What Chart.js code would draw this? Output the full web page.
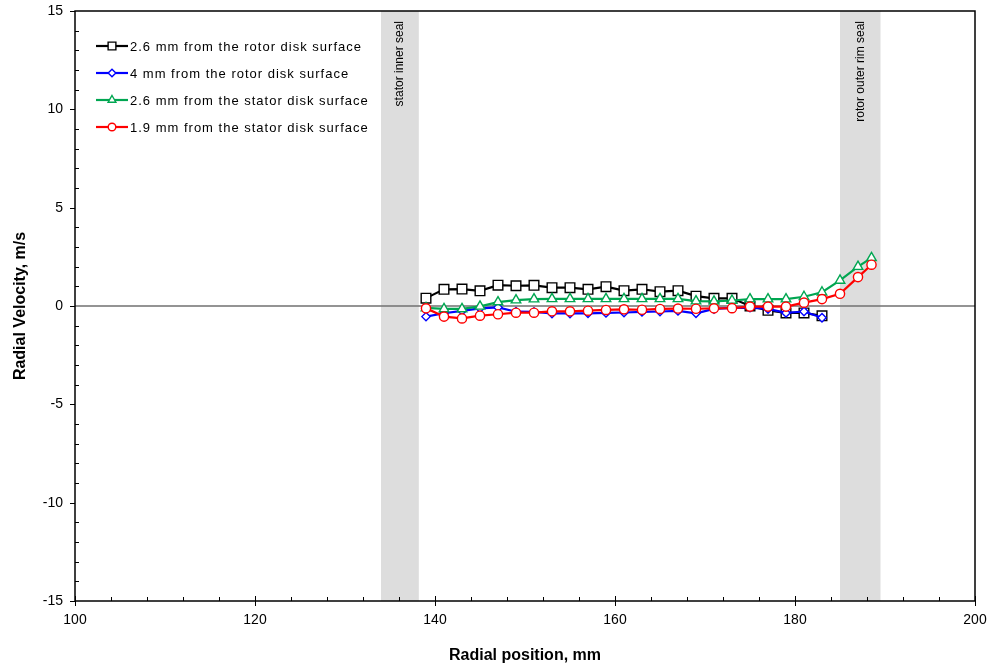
<!DOCTYPE html>
<html>
<head>
<meta charset="utf-8">
<script src="https://cdn.jsdelivr.net/npm/chart.js@4/dist/chart.umd.min.js"></script>
<style>
  html, body { margin: 0; padding: 0; background: #fff; }
  #wrap { width: 990px; height: 668px; }
</style>
</head>
<body>
<div id="wrap"><canvas id="chart" width="990" height="668"></canvas></div>
<script>
// Radial positions of the measurement points (mm)
const radialPos = [139, 141, 143, 145, 147, 149, 151, 153, 155, 157, 159, 161,
                   163, 165, 167, 169, 171, 173, 175, 177, 179, 181, 183];
const radialPosStator = radialPos.concat([185, 187, 188.5]);

// Radial velocity (m/s) for each probe location
const rotor26 = [0.40, 0.85, 0.86, 0.77, 1.06, 1.03, 1.05, 0.93, 0.93, 0.85, 0.98, 0.78,
                 0.85, 0.73, 0.78, 0.50, 0.39, 0.39, 0.00, -0.22, -0.35, -0.35, -0.50];
const rotor4 = [-0.54, -0.37, -0.25, -0.12, -0.07, -0.29, -0.30, -0.38, -0.38, -0.37, -0.35, -0.33,
                -0.30, -0.28, -0.25, -0.37, -0.15, -0.10, -0.08, -0.15, -0.35, -0.28, -0.60];
const stator26 = [-0.10, -0.15, -0.15, -0.02, 0.20, 0.30, 0.35, 0.36, 0.36, 0.36, 0.36, 0.36,
                  0.36, 0.36, 0.36, 0.25, 0.24, 0.28, 0.35, 0.35, 0.35, 0.47, 0.70, 1.30, 2.00, 2.45];
const stator19 = [-0.12, -0.54, -0.63, -0.49, -0.42, -0.34, -0.34, -0.27, -0.27, -0.24, -0.20, -0.17,
                  -0.19, -0.15, -0.13, -0.14, -0.12, -0.11, -0.03, -0.03, -0.03, 0.17, 0.35, 0.62, 1.47, 2.10];

const seriesNames = [
  '2.6 mm from the rotor disk surface',
  '4 mm from the rotor disk surface',
  '2.6 mm from the stator disk surface',
  '1.9 mm from the stator disk surface'
];

// Seal regions (mm) and their captions
const sealBands = [
  { from: 134, to: 138.2, label: 'stator inner seal' },
  { from: 185, to: 189.5, label: 'rotor outer rim seal' }
];

// Axis ticks
const xTickValues = [100, 120, 140, 160, 180, 200];
const yTickValues = [-15, -10, -5, 0, 5, 10, 15];
const xMinorStep = 4;
const yMinorStep = 1;

const FONT = '"Liberation Sans", Arial, sans-serif';

const styles = [
  { color: '#000000', pointStyle: 'rect',     radius: 6.8, legendRadius: 5.5 },
  { color: '#0000ff', pointStyle: 'rectRot',  radius: 4.2, legendRadius: 3.8 },
  { color: '#00a651', pointStyle: 'triangle', radius: 5.5, legendRadius: 4.5 },
  { color: '#ff0000', pointStyle: 'circle',   radius: 4.6, legendRadius: 3.8 }
];

function toPoints(xs, ys) {
  return ys.map((v, i) => ({ x: xs[i], y: v }));
}

function makeDataset(idx, xs, ys) {
  const s = styles[idx];
  return {
    label: seriesNames[idx],
    data: toPoints(xs, ys),
    borderColor: s.color,
    backgroundColor: '#ffffff',
    borderWidth: 2.2,
    pointStyle: s.pointStyle,
    pointRadius: s.radius,
    pointBorderWidth: 1.4,
    pointBorderColor: s.color,
    pointBackgroundColor: '#ffffff',
    tension: 0,
    fill: false
  };
}

// Shaded seal bands, their captions and the zero reference line
const bandPlugin = {
  id: 'bands',
  beforeDatasetsDraw(chart) {
    const { ctx, chartArea: a, scales: { x, y } } = chart;
    ctx.save();
    sealBands.forEach(b => {
      const x0 = x.getPixelForValue(b.from);
      const x1 = x.getPixelForValue(b.to);
      ctx.fillStyle = '#dddddd';
      ctx.fillRect(x0, a.top, x1 - x0, a.bottom - a.top);
      ctx.save();
      ctx.translate((x0 + x1) / 2, a.top + 10);
      ctx.rotate(-Math.PI / 2);
      ctx.fillStyle = '#000';
      ctx.font = '12px ' + FONT;
      ctx.textAlign = 'right';
      ctx.textBaseline = 'middle';
      ctx.fillText(b.label, 0, 0);
      ctx.restore();
    });
    const y0 = y.getPixelForValue(0);
    ctx.strokeStyle = '#707070';
    ctx.lineWidth = 1.5;
    ctx.beginPath();
    ctx.moveTo(a.left, y0);
    ctx.lineTo(a.right, y0);
    ctx.stroke();
    ctx.restore();
  }
};

// Plot frame, tick marks and the in-plot legend
const framePlugin = {
  id: 'frame',
  afterDatasetsDraw(chart) {
    const { ctx, chartArea: a, scales: { x, y } } = chart;
    ctx.save();
    ctx.strokeStyle = '#000';
    ctx.lineWidth = 1.5;
    ctx.strokeRect(a.left, a.top, a.right - a.left, a.bottom - a.top);

    ctx.lineWidth = 1;
    ctx.beginPath();
    for (let v = x.min; v <= x.max + 1e-9; v += xMinorStep) {
      const px = Math.round(x.getPixelForValue(v)) + 0.5;
      const major = xTickValues.includes(v);
      ctx.moveTo(px, a.bottom - (major ? 5 : 4));
      ctx.lineTo(px, a.bottom + (major ? 5 : 0));
    }
    for (let v = y.min; v <= y.max + 1e-9; v += yMinorStep) {
      const py = Math.round(y.getPixelForValue(v)) + 0.5;
      const major = yTickValues.includes(v);
      ctx.moveTo(a.left - (major ? 5 : 0), py);
      ctx.lineTo(a.left + (major ? 0 : 4), py);
    }
    ctx.stroke();

    // legend
    const lx0 = 96, lx1 = 128, lxm = 112, tx = 130;
    const rows = [46, 73, 100, 127];
    styles.forEach((s, i) => {
      const ry = rows[i];
      ctx.strokeStyle = s.color;
      ctx.lineWidth = 2.2;
      ctx.beginPath();
      ctx.moveTo(lx0, ry);
      ctx.lineTo(lx1, ry);
      ctx.stroke();
      ctx.fillStyle = '#ffffff';
      ctx.lineWidth = 1.4;
      Chart.helpers.drawPoint(ctx, { pointStyle: s.pointStyle, radius: s.legendRadius, rotation: 0, borderWidth: 1.4 }, lxm, ry);
      ctx.fillStyle = '#000';
      ctx.font = '13px ' + FONT;
      ctx.letterSpacing = '1px';
      ctx.textAlign = 'left';
      ctx.textBaseline = 'middle';
      ctx.fillText(seriesNames[i], tx, ry + 1);
      ctx.letterSpacing = '0px';
    });
    ctx.restore();
  }
};

new Chart(document.getElementById('chart'), {
  type: 'line',
  data: {
    // last dataset is drawn first, so the red series ends on top
    datasets: [
      makeDataset(3, radialPosStator, stator19),
      makeDataset(2, radialPosStator, stator26),
      makeDataset(1, radialPos, rotor4),
      makeDataset(0, radialPos, rotor26)
    ]
  },
  options: {
    responsive: false,
    animation: false,
    layout: { padding: { top: 11, right: 15, left: 0, bottom: 0 } },
    plugins: { legend: { display: false }, tooltip: { enabled: false } },
    scales: {
      x: {
        type: 'linear',
        min: 100, max: 200,
        afterBuildTicks: s => { s.ticks = xTickValues.map(v => ({ value: v })); },
        afterFit: s => { s.height = 67; s.paddingLeft = 0; s.paddingRight = 0; },
        grid: { display: false, drawTicks: false },
        border: { display: false },
        ticks: { color: '#000', font: { family: FONT, size: 14 }, padding: 11, maxRotation: 0 },
        title: {
          display: true, text: 'Radial position, mm', color: '#000',
          font: { family: FONT, size: 16, weight: 'bold' }, padding: { top: 0, bottom: 3 }
        }
      },
      y: {
        type: 'linear',
        min: -15, max: 15,
        afterBuildTicks: s => { s.ticks = yTickValues.map(v => ({ value: v })); },
        afterFit: s => { s.width = 75; s.paddingTop = 0; s.paddingBottom = 0; },
        grid: { display: false, drawTicks: false },
        border: { display: false },
        ticks: { color: '#000', font: { family: FONT, size: 14 }, padding: 12 },
        title: {
          display: true, text: 'Radial Velocity, m/s', color: '#000',
          font: { family: FONT, size: 16, weight: 'bold' }, padding: { top: 11, bottom: 0 }
        }
      }
    }
  },
  plugins: [bandPlugin, framePlugin]
});
</script>
</body>
</html>
